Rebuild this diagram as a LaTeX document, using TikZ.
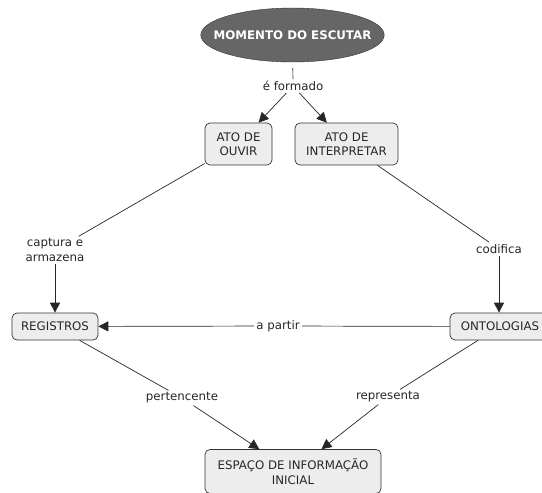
\documentclass[tikz,border=0pt]{standalone}
\usepackage{fontspec}
\setmainfont{DejaVu Sans}
\usetikzlibrary{arrows.meta,shapes.geometric}
\begin{document}
\begin{tikzpicture}[x=1pt,y=-1pt,
  every node/.style={font=\fontsize{11.8}{14.5}\selectfont, text=black!85},
  concept/.style={draw=black!80, fill=black!7, rounded corners=5pt, align=center, inner sep=0pt, line width=0.7pt},
  linklabel/.style={align=center, inner sep=2pt},
  link/.style={draw=black!85, line width=0.7pt},
  arrowlink/.style={link, -{Triangle[length=10pt,width=10pt]}}]
  \useasboundingbox (0,0) rectangle (542,493);

  % main concept
  \node[ellipse, draw=black!80, fill=black!60, minimum width=183pt, minimum height=54pt,
        inner xsep=-14pt, inner ysep=0pt,
        text=white, font=\fontsize{11.8}{14.5}\selectfont\bfseries] (momento) at (292.5,35) {MOMENTO DO ESCUTAR};

  % concepts
  \node[concept, minimum width=67pt, minimum height=42pt] (ouvir) at (238.5,144) {ATO DE\\OUVIR};
  \node[concept, minimum width=103pt, minimum height=42pt] (interpretar) at (346.5,144) {ATO DE\\INTERPRETAR};
  \node[concept, minimum width=86pt, minimum height=27pt] (registros) at (55,326.5) {REGISTROS};
  \node[concept, minimum width=100pt, minimum height=27pt] (ontologias) at (500,326.5) {ONTOLOGIAS};
  \node[concept, minimum width=176pt, minimum height=44pt] (espaco) at (293,471.5) {ESPAÇO DE INFORMAÇÃO\\INICIAL};

  % linking phrases
  \node[linklabel] (formado) at (293,86) {é formado};
  \node[linklabel] (captura) at (55,250) {captura e\\armazena};
  \node[linklabel] (codifica) at (499,249) {codifica};
  \node[linklabel] (partir) at (278,326) {a partir};
  \node[linklabel] (pertencente) at (182,398) {pertencente};
  \node[linklabel] (representa) at (388,397) {representa};

  % connectors
  \draw[link, shorten <=6pt] (momento) -- (formado);
  \draw[arrowlink] (formado) -- (ouvir);
  \draw[arrowlink] (formado) -- (interpretar);
  \draw[link] (ouvir) -- (captura);
  \draw[arrowlink] (captura) -- (registros);
  \draw[link] (interpretar) -- (codifica);
  \draw[arrowlink] (codifica) -- (codifica |- ontologias.north);
  \draw[link] (ontologias) -- (partir);
  \draw[arrowlink] (partir) -- (registros);
  \draw[link] (registros) -- (pertencente);
  \draw[arrowlink] (pertencente) -- (espaco);
  \draw[link] (ontologias) -- (representa);
  \draw[arrowlink] (representa) -- (espaco);
\end{tikzpicture}
\end{document}
